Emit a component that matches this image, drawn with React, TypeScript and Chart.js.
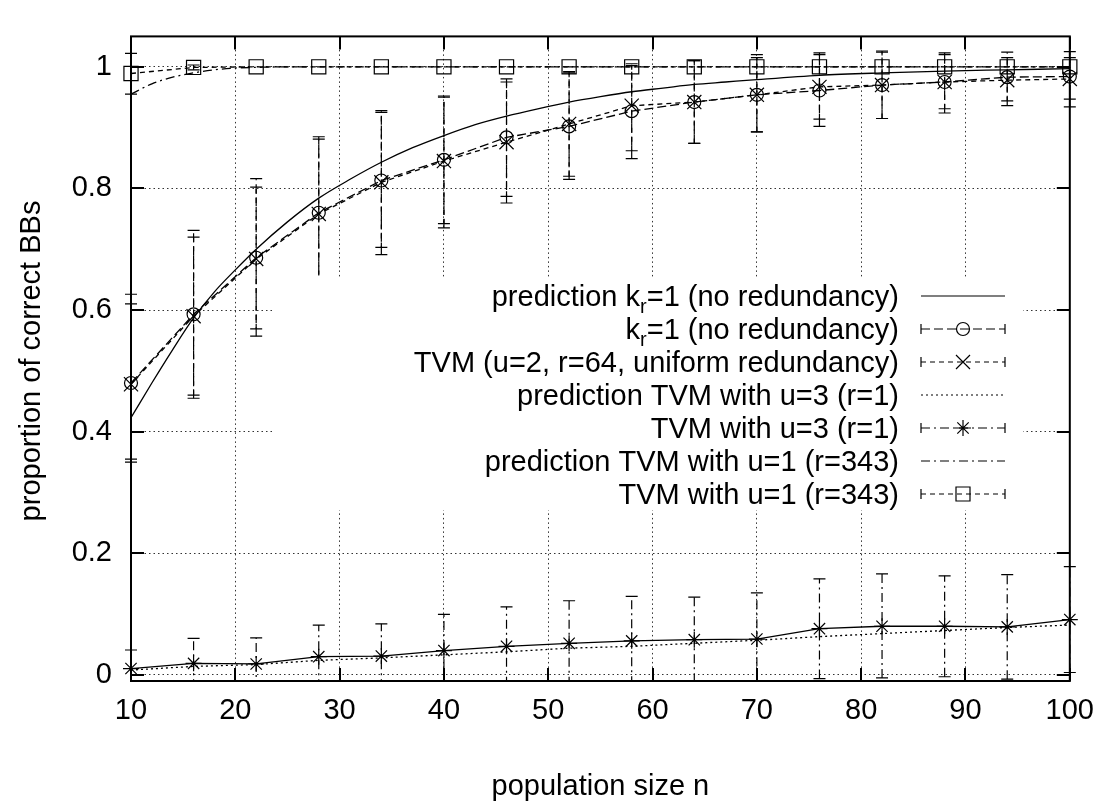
import React, { useEffect, useRef } from 'react';
import { Chart, registerables } from 'chart.js';
Chart.register(...registerables);

// ---- data ----
const nValues = [10, 16, 22, 28, 34, 40, 46, 52, 58, 64, 70, 76, 82, 88, 94, 100];

const predKrX = [10, 12, 14, 16, 18, 20, 22, 25, 28, 31, 34, 37, 40, 43, 46, 49, 52, 55, 58, 61, 64, 67, 70, 76, 82, 88, 94, 100];
const predKrY = [0.423, 0.48, 0.535, 0.587, 0.63, 0.666, 0.7, 0.745, 0.784, 0.815, 0.843, 0.867, 0.887, 0.905, 0.919, 0.931, 0.942, 0.951, 0.959, 0.965, 0.971, 0.975, 0.979, 0.986, 0.99, 0.993, 0.995, 0.997];

const krY = [0.48, 0.593, 0.686, 0.76, 0.813, 0.847, 0.884, 0.902, 0.927, 0.942, 0.954, 0.961, 0.97, 0.975, 0.983, 0.984];
const krLow = [0.35, 0.455, 0.557, 0.637, 0.691, 0.735, 0.776, 0.815, 0.849, 0.874, 0.893, 0.902, 0.915, 0.924, 0.936, 0.934];
const krHigh = [0.61, 0.731, 0.816, 0.885, 0.928, 0.952, 0.98, 0.992, 1.002, 1.01, 1.02, 1.023, 1.026, 1.023, 1.024, 1.025];

const u2Y = [0.478, 0.59, 0.684, 0.758, 0.81, 0.845, 0.876, 0.906, 0.936, 0.942, 0.954, 0.967, 0.97, 0.975, 0.978, 0.98];
const u2Low = [0.355, 0.46, 0.569, 0.642, 0.703, 0.742, 0.787, 0.82, 0.862, 0.874, 0.893, 0.914, 0.915, 0.931, 0.944, 0.947];
const u2High = [0.626, 0.72, 0.802, 0.881, 0.925, 0.95, 0.975, 0.99, 1.005, 1.01, 1.015, 1.02, 1.024, 1.02, 1.015, 1.015];

const predU3Y = [0.008, 0.014, 0.017, 0.024, 0.028, 0.033, 0.038, 0.044, 0.047, 0.052, 0.057, 0.063, 0.068, 0.073, 0.078, 0.082];

const u3Y = [0.0105, 0.019, 0.018, 0.03, 0.031, 0.04, 0.047, 0.052, 0.056, 0.058, 0.059, 0.076, 0.08, 0.08, 0.079, 0.091];
const u3Low = [-0.02, -0.022, -0.025, -0.022, -0.022, -0.02, -0.018, -0.018, -0.017, -0.012, -0.017, -0.006, -0.005, -0.003, -0.007, 0.004];
const u3High = [0.041, 0.06, 0.061, 0.082, 0.084, 0.0996, 0.112, 0.122, 0.129, 0.128, 0.135, 0.158, 0.166, 0.163, 0.165, 0.178];

const predU1X = [10, 12, 14, 16, 18, 20, 22, 25, 28, 100];
const predU1Y = [0.955, 0.972, 0.983, 0.99, 0.995, 0.998, 0.999, 1, 1, 1];

const u1Y = [0.989, 0.999, 1, 1, 1, 1, 1, 1, 1, 1, 1, 1, 1, 1, 1, 1];
const u1Low = [0.955, 0.995, 1, 1, 1, 1, 1, 1, 1, 1, 1, 1, 1, 1, 1, 1];
const u1High = [1.022, 1.003, 1, 1, 1, 1, 1, 1, 1, 1, 1, 1, 1, 1, 1, 1];

const xTicks = [10, 20, 30, 40, 50, 60, 70, 80, 90, 100];
const yTicks = [0, 0.2, 0.4, 0.6, 0.8, 1];

const seriesLabels = [
  'prediction k_{r}=1 (no redundancy)',
  'k_{r}=1 (no redundancy)',
  'TVM (u=2, r=64, uniform redundancy)',
  'prediction TVM with u=3 (r=1)',
  'TVM with u=3 (r=1)',
  'prediction TVM with u=1 (r=343)',
  'TVM with u=1 (r=343)',
];
const xTitle = 'population size n';
const yTitle = 'proportion of correct BBs';

// ---- styles ----
const FONT = '"Liberation Sans", Arial, Helvetica, sans-serif';
const FS = 29;
const DASH_KR = [9, 4];
const DASH_U2 = [5, 4];
const DASH_U3 = [9, 4, 2, 4];
const DASH_PU3 = [2, 3];
const DASH_PU1 = [9, 4, 2, 4];
const DASH_U1 = [5, 4];
const GRID_DASH = [1.5, 3];
const GRID_COLOR = 'rgba(0,0,0,0.8)';

const legendStyles = [
  { dash: [], marker: null, bars: false },
  { dash: DASH_KR, marker: 'circle', bars: true },
  { dash: DASH_U2, marker: 'crossRot', bars: true },
  { dash: DASH_PU3, marker: null, bars: false },
  { dash: DASH_U3, marker: 'star', bars: true },
  { dash: DASH_PU1, marker: null, bars: false },
  { dash: DASH_U1, marker: 'rect', bars: true },
];

const errorSets = [
  { low: krLow, high: krHigh, dash: DASH_KR },
  { low: u2Low, high: u2High, dash: DASH_U2 },
  { low: u3Low, high: u3High, dash: DASH_U3 },
  { low: u1Low, high: u1High, dash: DASH_U1 },
];

const pts = (xs: number[], ys: number[]) => xs.map((x, i) => ({ x, y: ys[i] }));

function drawMarker(ctx: CanvasRenderingContext2D, kind: string, x: number, y: number) {
  ctx.save();
  ctx.setLineDash([]);
  ctx.lineWidth = 1.2;
  ctx.strokeStyle = '#000';
  ctx.beginPath();
  if (kind === 'circle') {
    ctx.arc(x, y, 6.5, 0, Math.PI * 2);
  } else if (kind === 'crossRot') {
    const d = 7;
    ctx.moveTo(x - d, y - d); ctx.lineTo(x + d, y + d);
    ctx.moveTo(x - d, y + d); ctx.lineTo(x + d, y - d);
  } else if (kind === 'star') {
    const r = 8, d = 5.7;
    ctx.moveTo(x - r, y); ctx.lineTo(x + r, y);
    ctx.moveTo(x, y - r); ctx.lineTo(x, y + r);
    ctx.moveTo(x - d, y - d); ctx.lineTo(x + d, y + d);
    ctx.moveTo(x - d, y + d); ctx.lineTo(x + d, y - d);
  } else if (kind === 'rect') {
    ctx.rect(x - 7, y - 7, 14, 14);
  }
  ctx.stroke();
  ctx.restore();
}

function parseLabel(s: string) {
  const parts: { t: string; sub: boolean }[] = [];
  const re = /_\{([^}]*)\}/g;
  let last = 0;
  let m;
  while ((m = re.exec(s))) {
    if (m.index > last) parts.push({ t: s.slice(last, m.index), sub: false });
    parts.push({ t: m[1], sub: true });
    last = m.index + m[0].length;
  }
  if (last < s.length) parts.push({ t: s.slice(last), sub: false });
  return parts;
}

const gnuplotPlugin = {
  id: 'gnuplotLook',
  afterDatasetsDraw(chart: any) {
    const { ctx, chartArea: ca, scales } = chart;
    const xs = scales.x, ys = scales.y;
    // error bars
    ctx.save();
    ctx.beginPath();
    ctx.rect(0, ca.top, chart.width, ca.bottom - ca.top);
    ctx.clip();
    ctx.strokeStyle = '#000';
    ctx.lineWidth = 1.2;
    errorSets.forEach((es) => {
      nValues.forEach((n, i) => {
        const lo = es.low[i], hi = es.high[i];
        if (hi - lo < 1e-6) return;
        const px = xs.getPixelForValue(n);
        const p1 = ys.getPixelForValue(lo), p2 = ys.getPixelForValue(hi);
        ctx.setLineDash(es.dash);
        ctx.beginPath();
        ctx.moveTo(px, p1); ctx.lineTo(px, p2);
        ctx.stroke();
        ctx.setLineDash([]);
        ctx.beginPath();
        ctx.moveTo(px - 6, p1); ctx.lineTo(px + 6, p1);
        ctx.moveTo(px - 6, p2); ctx.lineTo(px + 6, p2);
        ctx.stroke();
      });
    });
    ctx.restore();
  },
  afterDraw(chart: any) {
    const { ctx, chartArea: ca, scales } = chart;
    const xs = scales.x, ys = scales.y;
    ctx.save();
    // legend (opaque key box)
    const boxL = 275, boxR = 1023, boxT = 277, boxB = 510;
    ctx.fillStyle = '#fff';
    ctx.fillRect(boxL, boxT, boxR - boxL, boxB - boxT);
    const textRight = 899, sL = 921, sR = 1005, sC = 963;
    seriesLabels.forEach((lab, i) => {
      const cy = 296 + i * 33;
      const parts = parseLabel(lab);
      let total = 0;
      parts.forEach((p) => {
        ctx.font = `${p.sub ? 20 : FS}px ${FONT}`;
        total += ctx.measureText(p.t).width;
      });
      let cx = textRight - total;
      ctx.fillStyle = '#000';
      ctx.textBaseline = 'alphabetic';
      ctx.textAlign = 'left';
      parts.forEach((p) => {
        ctx.font = `${p.sub ? 20 : FS}px ${FONT}`;
        ctx.fillText(p.t, cx, cy + 10 + (p.sub ? 7 : 0));
        cx += ctx.measureText(p.t).width;
      });
      const st = legendStyles[i];
      ctx.strokeStyle = '#000';
      ctx.lineWidth = 1.2;
      ctx.setLineDash(st.dash);
      ctx.beginPath();
      ctx.moveTo(sL, cy); ctx.lineTo(sR, cy);
      ctx.stroke();
      ctx.setLineDash([]);
      if (st.bars) {
        ctx.beginPath();
        ctx.moveTo(sL, cy - 5); ctx.lineTo(sL, cy + 5);
        ctx.moveTo(sR, cy - 5); ctx.lineTo(sR, cy + 5);
        ctx.stroke();
      }
      if (st.marker) drawMarker(ctx, st.marker, sC, cy);
    });
    // border
    ctx.setLineDash([]);
    ctx.strokeStyle = '#000';
    ctx.lineWidth = 2;
    ctx.strokeRect(ca.left, ca.top, ca.right - ca.left, ca.bottom - ca.top);
    // inward tick marks
    const tl = 13;
    ctx.beginPath();
    xTicks.forEach((v) => {
      const px = Math.round(xs.getPixelForValue(v));
      ctx.moveTo(px, ca.bottom); ctx.lineTo(px, ca.bottom - tl);
      ctx.moveTo(px, ca.top); ctx.lineTo(px, ca.top + tl);
    });
    yTicks.forEach((v) => {
      const py = Math.round(ys.getPixelForValue(v));
      ctx.moveTo(ca.left, py); ctx.lineTo(ca.left + tl, py);
      ctx.moveTo(ca.right, py); ctx.lineTo(ca.right - tl, py);
    });
    ctx.stroke();
    // axis titles
    ctx.fillStyle = '#000';
    ctx.font = `${FS}px ${FONT}`;
    ctx.textAlign = 'center';
    ctx.textBaseline = 'alphabetic';
    ctx.fillText(xTitle, (ca.left + ca.right) / 2, 795);
    ctx.translate(40, 361);
    ctx.rotate(-Math.PI / 2);
    ctx.fillText(yTitle, 0, 0);
    ctx.restore();
  },
};

export default function App() {
  const ref = useRef<HTMLCanvasElement>(null);
  useEffect(() => {
    document.body.style.margin = '0';
    const line = { borderColor: '#000', borderWidth: 1.3, showLine: true, fill: false, clip: false as any };
    const chart = new Chart(ref.current as HTMLCanvasElement, {
      type: 'scatter',
      data: {
        datasets: [
          { ...line, label: seriesLabels[0], data: pts(predKrX, predKrY), pointRadius: 0, cubicInterpolationMode: 'monotone' },
          { ...line, label: seriesLabels[1], data: pts(nValues, krY), borderDash: DASH_KR, pointStyle: 'circle', pointRadius: 6.5, pointBorderColor: '#000', pointBackgroundColor: 'rgba(0,0,0,0)', pointBorderWidth: 1.2 },
          { ...line, label: seriesLabels[2], data: pts(nValues, u2Y), borderDash: DASH_U2, pointStyle: 'crossRot', pointRadius: 10, pointBorderColor: '#000', pointBorderWidth: 1.2 },
          { ...line, label: seriesLabels[3], data: pts(nValues, predU3Y), borderDash: DASH_PU3, pointRadius: 0 },
          { ...line, label: seriesLabels[4], data: pts(nValues, u3Y), pointStyle: 'star', pointRadius: 8, pointBorderColor: '#000', pointBorderWidth: 1.2 },
          { ...line, label: seriesLabels[5], data: pts(predU1X, predU1Y), borderDash: DASH_PU1, pointRadius: 0, cubicInterpolationMode: 'monotone' },
          { ...line, label: seriesLabels[6], data: pts(nValues, u1Y), borderDash: DASH_U1, pointStyle: 'rect', pointRadius: 10, pointBorderColor: '#000', pointBackgroundColor: 'rgba(0,0,0,0)', pointBorderWidth: 1.2 },
        ] as any,
      },
      options: {
        animation: false,
        responsive: false,
        events: [],
        layout: { padding: { top: 7, right: 29, left: 0, bottom: 0 } },
        plugins: { legend: { display: false }, tooltip: { enabled: false } },
        scales: {
          x: {
            type: 'linear',
            min: 10,
            max: 100,
            afterBuildTicks: (s: any) => { s.ticks = xTicks.map((v) => ({ value: v })); },
            afterFit: (s: any) => { s.height = 123; },
            ticks: { color: '#000', font: { family: FONT, size: FS }, padding: 13, autoSkip: false, maxRotation: 0, callback: (v: any) => String(v) },
            grid: { color: GRID_COLOR, lineWidth: 1, drawTicks: false },
            border: { display: false, dash: GRID_DASH },
          },
          y: {
            type: 'linear',
            min: -0.01,
            max: 1.05,
            afterBuildTicks: (s: any) => { s.ticks = yTicks.map((v) => ({ value: v })); },
            afterFit: (s: any) => { s.width = 131; },
            ticks: { color: '#000', font: { family: FONT, size: FS }, padding: 19, callback: (v: any) => String(Math.round(v * 10) / 10) },
            grid: { color: GRID_COLOR, lineWidth: 1, drawTicks: false },
            border: { display: false, dash: GRID_DASH },
          },
        },
      } as any,
      plugins: [gnuplotPlugin],
    });
    return () => chart.destroy();
  }, []);
  return (
    <div style={{ width: 1107, height: 804 }}>
      <canvas ref={ref} width={1107} height={804} style={{ display: 'block' }} />
    </div>
  );
}
